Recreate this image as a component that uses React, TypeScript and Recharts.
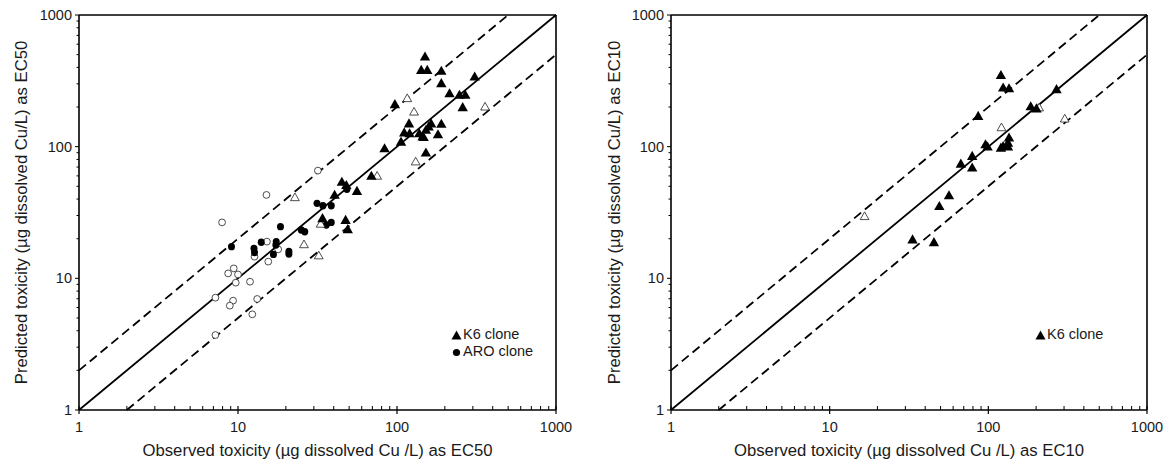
import React from "react";
import { ScatterChart, Scatter, XAxis, YAxis, ReferenceLine } from "recharts";

// ---- tick values ----
const majorTicks = [1, 10, 100, 1000];
const allTicks = [1, 2, 3, 4, 5, 6, 7, 8, 9, 10, 20, 30, 40, 50, 60, 70, 80, 90, 100, 200, 300, 400, 500, 600, 700, 800, 900, 1000];

// ---- EC50 panel: [observed, predicted] ----
const ec50K6Filled: [number, number][] = [
  [150, 483], [142, 382], [155, 382], [190, 376], [190, 303], [214, 254], [308, 340], [247, 247],
  [269, 247], [259, 199], [97, 210], [83.5, 97], [106, 109], [111, 128], [119, 150], [120, 126],
  [138, 126], [145, 120], [152, 134], [158, 142], [164, 150], [190, 149], [181, 124], [152, 90],
  [147, 118], [69, 60], [45, 54], [48, 51], [40.5, 43], [56, 46], [34, 28.6], [47.5, 27.7], [49, 23.6],
];
const ec50K6Open: [number, number][] = [
  [116, 233], [128, 184], [358, 201], [131, 77], [75, 60], [22.8, 41.2], [26, 18.1], [32.2, 14.9], [33.1, 25.9],
];
const ec50AroFilled: [number, number][] = [
  [9.1, 17.4], [12.6, 16.9], [12.7, 15.7], [14, 18.8], [17.4, 19], [17.3, 17.9], [18.5, 24.7], [16.7, 15.2],
  [20.9, 16], [20.9, 15.3], [25, 23.3], [26.3, 22.6], [31.4, 37.1], [34.2, 35.6], [38.6, 35.6], [35.9, 25.4],
  [38.6, 26.6], [48.4, 47.4],
];
const ec50AroOpen: [number, number][] = [
  [31.8, 65.8], [15.1, 43], [7.94, 26.6], [15.2, 19], [17.9, 16.6], [12.7, 14.6], [15.5, 13.4], [9.4, 11.9],
  [8.67, 10.9], [10, 10.7], [9.68, 9.27], [11.9, 9.43], [7.21, 7.13], [9.31, 6.77], [8.88, 6.2], [13.2, 6.97],
  [12.3, 5.33], [7.21, 3.71],
];

// ---- EC10 panel ----
const ec10K6Filled: [number, number][] = [
  [120, 349], [124, 281], [135, 277], [269, 273], [185, 202], [201, 195], [86.3, 171], [96, 104],
  [98.9, 100], [120, 98], [124, 101], [133, 107], [135, 117], [133, 100], [67.1, 74.2], [79.1, 84.9],
  [79.1, 69.2], [56.5, 42.6], [49.1, 35.3], [33.3, 19.7], [45.4, 18.8],
];
const ec10K6Open: [number, number][] = [[16.6, 29.6], [121, 140], [209, 198], [303, 163]];

// ---- reference lines (1:1 and factor of 2) ----
const oneToOne = [{ x: 1, y: 1 }, { x: 1000, y: 1000 }];
const upperFactor2 = [{ x: 1, y: 2 }, { x: 500, y: 1000 }];
const lowerFactor2 = [{ x: 2, y: 1 }, { x: 1000, y: 500 }];

const FONT = '"Liberation Sans", Arial, Helvetica, sans-serif';
const TXT = "#1a1a1a";

const toPts = (a: [number, number][]) => a.map(([x, y]) => ({ x, y }));

const FilledTri = (p: any) => {
  const { cx, cy } = p;
  if (cx == null) return null;
  return <polygon points={`${cx - 5.2},${cy + 3.9} ${cx + 5.2},${cy + 3.9} ${cx},${cy - 5.2}`} fill="#000" />;
};
const OpenTri = (p: any) => {
  const { cx, cy } = p;
  if (cx == null) return null;
  return <polygon points={`${cx - 4.4},${cy + 3.3} ${cx + 4.4},${cy + 3.3} ${cx},${cy - 4.4}`} fill="#fff" stroke="#222" strokeWidth={0.8} />;
};
const FilledCirc = (p: any) => {
  const { cx, cy } = p;
  if (cx == null) return null;
  return <ellipse cx={cx} cy={cy} rx={3.5} ry={3.7} fill="#000" />;
};
const OpenCirc = (p: any) => {
  const { cx, cy } = p;
  if (cx == null) return null;
  return <circle cx={cx} cy={cy} r={3.4} fill="#fff" stroke="#222" strokeWidth={0.8} />;
};

const XTick = (p: any) => {
  const { x, y, payload } = p;
  const v = payload.value;
  const major = majorTicks.includes(v);
  return (
    <g>
      {major ? (
        <line x1={x} x2={x} y1={y - 4} y2={y + 4} stroke="#000" strokeWidth={1.2} />
      ) : (
        <line x1={x} x2={x} y1={y - 4} y2={y} stroke="#000" strokeWidth={1} />
      )}
      {major && (
        <text x={x} y={y + 17} dy="0.35em" textAnchor="middle" fontSize={14.5} fontFamily={FONT} fill={TXT}>
          {v}
        </text>
      )}
    </g>
  );
};

const YTick = (p: any) => {
  const { x, y, payload } = p;
  const v = payload.value;
  const major = majorTicks.includes(v);
  return (
    <g>
      <line x1={x - (major ? 4 : 2.5)} x2={x} y1={y} y2={y} stroke="#000" strokeWidth={1} />
      {major && (
        <text x={x - 7} y={y} dy="0.35em" textAnchor="end" fontSize={14.5} fontFamily={FONT} fill={TXT}>
          {v}
        </text>
      )}
    </g>
  );
};

type Series = { data: [number, number][]; shape: any; name: string };
type LegendItem = { kind: "tri" | "circ"; text: string };

function Panel(props: {
  left: number;
  marginLeft: number;
  marginRight: number;
  series: Series[];
  xTitle: string;
  yTitle: string;
  yTitleOffset: number;
  legend: LegendItem[];
  legendLeft: number;
  legendTop: number;
}) {
  const W = 584;
  const H = 462;
  return (
    <div style={{ position: "absolute", left: props.left, top: 0, width: W, height: H }}>
      <ScatterChart
        width={W}
        height={H}
        margin={{ top: 15, right: props.marginRight, bottom: 51, left: props.marginLeft - 1 }}
      >
        <XAxis
          type="number"
          dataKey="x"
          scale="log"
          domain={[1, 1000]}
          allowDataOverflow
          ticks={allTicks}
          interval={0}
          tickSize={0}
          tickMargin={0}
          tickLine={false}
          tick={<XTick />}
          height={1}
          axisLine={{ stroke: "#000", strokeWidth: 1.6 }}
          label={{ value: props.xTitle, position: "bottom", offset: 33, fontSize: 16.7, fontFamily: FONT, fill: TXT }}
        />
        <YAxis
          type="number"
          dataKey="y"
          scale="log"
          domain={[1, 1000]}
          allowDataOverflow
          ticks={allTicks}
          interval={0}
          tickSize={0}
          tickMargin={0}
          tickLine={false}
          tick={<YTick />}
          width={1}
          axisLine={{ stroke: "#000", strokeWidth: 1.6 }}
          label={{
            value: props.yTitle,
            angle: -90,
            position: "left",
            offset: props.yTitleOffset,
            style: { textAnchor: "middle" },
            fontSize: 16.7,
            fontFamily: FONT,
            fill: TXT,
          }}
        />
        <ReferenceLine y={1000} stroke="#000" strokeWidth={1.6} />
        <ReferenceLine x={1000} stroke="#000" strokeWidth={1.6} />
        <ReferenceLine segment={oneToOne} stroke="#000" strokeWidth={1.8} />
        <ReferenceLine segment={upperFactor2} stroke="#000" strokeWidth={1.8} strokeDasharray="9 5" />
        <ReferenceLine segment={lowerFactor2} stroke="#000" strokeWidth={1.8} strokeDasharray="9 5" />
        {props.series.map((s) => (
          <Scatter key={s.name} name={s.name} data={toPts(s.data)} shape={s.shape} isAnimationActive={false} />
        ))}
      </ScatterChart>
      <div
        style={{
          position: "absolute",
          left: props.legendLeft,
          top: props.legendTop,
          fontFamily: FONT,
          fontSize: 14.5,
          color: TXT,
          lineHeight: "17px",
        }}
      >
        {props.legend.map((l) => (
          <div key={l.text} style={{ display: "flex", alignItems: "center", whiteSpace: "nowrap" }}>
            <svg width={11} height={12} style={{ marginRight: 1 }}>
              {l.kind === "tri" ? (
                <polygon points="0.5,10.5 10.5,10.5 5.5,1.5" fill="#000" />
              ) : (
                <circle cx={5.5} cy={6.5} r={3.6} fill="#000" />
              )}
            </svg>
            <span>{l.text}</span>
          </div>
        ))}
      </div>
    </div>
  );
}

export default function App() {
  return (
    <div style={{ position: "absolute", left: 0, top: 0, width: 1168, height: 462, background: "#fff" }}>
      <Panel
        left={0}
        marginLeft={79}
        marginRight={28}
        xTitle="Observed toxicity (µg dissolved Cu /L) as EC50"
        yTitle="Predicted toxicity (µg dissolved Cu/L) as EC50"
        yTitleOffset={57}
        series={[
          { name: "ARO open", data: ec50AroOpen, shape: OpenCirc },
          { name: "ARO clone", data: ec50AroFilled, shape: FilledCirc },
          { name: "K6 open", data: ec50K6Open, shape: OpenTri },
          { name: "K6 clone", data: ec50K6Filled, shape: FilledTri },
        ]}
        legend={[
          { kind: "tri", text: "K6 clone" },
          { kind: "circ", text: "ARO clone" },
        ]}
        legendLeft={451}
        legendTop={326}
      />
      <Panel
        left={584}
        marginLeft={87}
        marginRight={21}
        xTitle="Observed toxicity (µg dissolved Cu /L) as EC10"
        yTitle="Predicted toxicity (µg dissolved Cu/L) as EC10"
        yTitleOffset={56}
        series={[
          { name: "K6 open", data: ec10K6Open, shape: OpenTri },
          { name: "K6 clone", data: ec10K6Filled, shape: FilledTri },
        ]}
        legend={[{ kind: "tri", text: "K6 clone" }]}
        legendLeft={451}
        legendTop={326}
      />
    </div>
  );
}
